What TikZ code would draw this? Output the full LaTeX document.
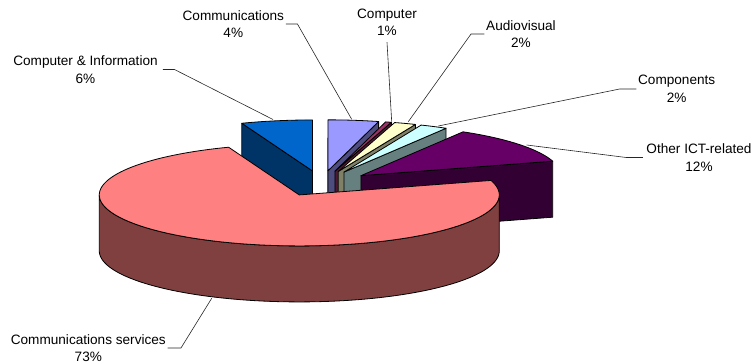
\documentclass[tikz,border=0pt]{standalone}
\usepackage{fontspec}
\setmainfont{Liberation Sans}

\definecolor{svcTop}{HTML}{FF8080}\definecolor{svcSide}{HTML}{804040}
\definecolor{othTop}{HTML}{660066}\definecolor{othSide}{HTML}{330033}
\definecolor{cmpTop}{HTML}{CCFFFF}\definecolor{cmpSide}{HTML}{668080}
\definecolor{avTop}{HTML}{FFFFCC}\definecolor{avSide}{HTML}{808066}
\definecolor{pcTop}{HTML}{993366}\definecolor{pcSide}{HTML}{4D1A33}
\definecolor{comTop}{HTML}{9999FF}\definecolor{comSide}{HTML}{4D4D80}
\definecolor{ciTop}{HTML}{0066CC}\definecolor{ciSide}{HTML}{003366}

% pie geometry (pixel units, y pointing down)
\def\pcx{321.5}\def\pcy{183.5}
\def\prx{200}\def\pry{51}
\def\pdep{56}\def\pex{0.25}

% one exploded 3D wedge: start angle, end angle, top colour, side colour
\newcommand\pieWedge[4]{%
  \pgfmathsetmacro\wMid{(#1+#2)/2}%
  \pgfmathsetmacro\wX{\pcx+\pex*\prx*cos(\wMid)}%
  \pgfmathsetmacro\wY{\pcy-\pex*\pry*sin(\wMid)}%
  % radial face along the start edge
  \pgfmathtruncatemacro\wS{cos(#1)>0.001 ? 1 : 0}%
  \ifnum\wS=1
    \filldraw[face,fill=#4] (\wX,\wY) -- ++({\prx*cos(#1)},{-\pry*sin(#1)})
      -- ++(0,\pdep) -- (\wX,{\wY+\pdep}) -- cycle;
  \fi
  % radial face along the end edge
  \pgfmathtruncatemacro\wE{cos(#2)<-0.001 ? 1 : 0}%
  \ifnum\wE=1
    \filldraw[face,fill=#4] (\wX,\wY) -- ++({\prx*cos(#2)},{-\pry*sin(#2)})
      -- ++(0,\pdep) -- (\wX,{\wY+\pdep}) -- cycle;
  \fi
  % curved outer face (front half only)
  \pgfmathsetmacro\wLo{max(#1,180)}%
  \pgfmathsetmacro\wHi{min(#2,360)}%
  \pgfmathtruncatemacro\wC{\wHi>\wLo ? 1 : 0}%
  \ifnum\wC=1
    \filldraw[face,fill=#4]
      plot[domain=\wLo:\wHi,samples=90] ({\wX+\prx*cos(\x)},{\wY-\pry*sin(\x)})
      -- plot[domain=\wHi:\wLo,samples=90] ({\wX+\prx*cos(\x)},{\wY-\pry*sin(\x)+\pdep})
      -- cycle;
  \fi
  % top face
  \filldraw[face,fill=#3] (\wX,\wY)
    -- plot[domain=#1:#2,samples=120] ({\wX+\prx*cos(\x)},{\wY-\pry*sin(\x)})
    -- cycle;
}

\begin{document}
\begin{tikzpicture}[x=1pt,y=-1pt,
  face/.style={draw=black,line width=0.8pt,line join=round},
  lbl/.style={align=center,inner sep=0pt,font=\fontsize{13.6}{17.5}\selectfont},
  leader/.style={draw=black!85,line width=0.6pt}]
\useasboundingbox (0,0) rectangle (756,364);

% wedges, back to front
\pieWedge{90}{110.7}{ciTop}{ciSide}
\pieWedge{75.3}{90}{comTop}{comSide}
\pieWedge{73.6}{75.3}{pcTop}{pcSide}
\pieWedge{67.3}{73.6}{avTop}{avSide}
\pieWedge{59.3}{67.3}{cmpTop}{cmpSide}
\pieWedge{16.5}{59.3}{othTop}{othSide}
\pieWedge{110.7}{376.5}{svcTop}{svcSide}

% labels
\node[lbl] (ci)  at (85.5,69.5)  {Computer \& Information\\6\%};
\node[lbl] (com) at (233.3,24)   {Communications\\4\%};
\node[lbl] (pc)  at (387,22.5)   {Computer\\1\%};
\node[lbl] (av)  at (521,34)     {Audiovisual\\2\%};
\node[lbl] (cmp) at (676.7,89)   {Components\\2\%};
\node[lbl] (oth) at (699,157.5)  {Other ICT-related\\12\%};
\node[lbl] (svc) at (88.3,348)   {Communications services\\73\%};

% leader end points on the wedges
\coordinate (ciP)  at (273,119.5);
\coordinate (comP) at (351.7,119.3);
\coordinate (pcP)  at (391.7,121.7);
\coordinate (avP)  at (408.3,121.7);
\coordinate (cmpP) at (438.3,126);
\coordinate (othP) at (526.7,145);
\coordinate (svcP) at (211.7,298.3);

\draw[leader] ([xshift=5pt]ci.east) -- ++(11.6,0) -- (ciP);
\draw[leader] ([xshift=1.7pt]com.east) -- ++(11.6,0) -- (comP);
\draw[leader] ([yshift=-6pt]pc.south) -- (pcP);
\draw[leader] ([xshift=-1.7pt]av.west) -- ++(-13.3,0) -- (avP);
\draw[leader] ([xshift=-1.6pt]cmp.west) -- ++(-16.7,0) -- (cmpP);
\draw[leader] ([xshift=-3.4pt]oth.west) -- ++(-16.6,0) -- (othP);
\draw[leader] ([xshift=1.6pt]svc.east) -- ++(13.4,0) -- (svcP);
\end{tikzpicture}
\end{document}
